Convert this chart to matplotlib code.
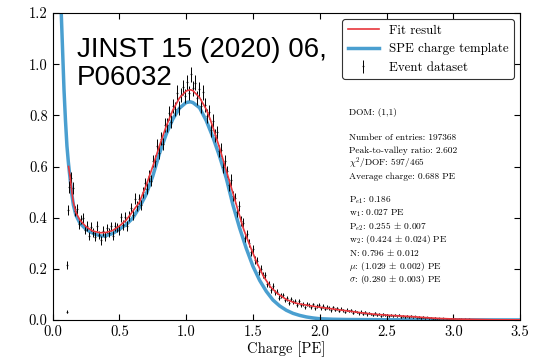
import numpy as np
import matplotlib
matplotlib.use("Agg")
import matplotlib.pyplot as plt

plt.rcParams["font.family"] = "serif"
plt.rcParams["font.serif"] = ["cmr10"]
plt.rcParams["mathtext.fontset"] = "cm"
plt.rcParams["axes.unicode_minus"] = False
plt.rcParams["axes.formatter.use_mathtext"] = True

# SPE charge template (blue)
tmpl_x = [0.064, 0.075, 0.086, 0.097, 0.108, 0.118, 0.131, 0.145, 0.156, 0.175,
          0.206, 0.25, 0.281, 0.32, 0.368, 0.40, 0.45, 0.50, 0.528, 0.55,
          0.60, 0.65, 0.70, 0.75, 0.80, 0.85, 0.90, 0.95, 1.00, 1.03,
          1.05, 1.10, 1.15, 1.20, 1.25, 1.30, 1.35, 1.40, 1.45, 1.50,
          1.55, 1.60, 1.65, 1.70, 1.75, 1.80, 1.85, 1.90, 1.95, 2.00,
          2.10, 2.20, 2.50, 3.00, 3.50]
tmpl_y = [1.22, 1.06, 0.90, 0.78, 0.68, 0.62, 0.555, 0.49, 0.45, 0.41,
          0.378, 0.355, 0.345, 0.335, 0.328, 0.330, 0.338, 0.355, 0.365, 0.372,
          0.398, 0.44, 0.49, 0.562, 0.650, 0.725, 0.785, 0.828, 0.850, 0.853,
          0.850, 0.830, 0.780, 0.715, 0.640, 0.555, 0.450, 0.360, 0.280, 0.210,
          0.155, 0.112, 0.078, 0.055, 0.038, 0.026, 0.018, 0.012, 0.008, 0.005,
          0.003, 0.002, 0.001, 0.0005, 0.0003]

# Fit result (red)
fit_x = [0.12, 0.13, 0.145, 0.156, 0.175, 0.206, 0.25, 0.30, 0.356, 0.40,
         0.45, 0.50, 0.55, 0.58, 0.60, 0.65, 0.70, 0.754, 0.80, 0.85,
         0.90, 0.95, 1.00, 1.03, 1.05, 1.10, 1.15, 1.18, 1.20, 1.25,
         1.28, 1.33, 1.38, 1.43, 1.48, 1.53, 1.58, 1.63, 1.68, 1.75,
         1.82, 1.90, 2.00, 2.10, 2.20, 2.30, 2.40, 2.50, 2.60, 2.70,
         2.80, 2.90, 3.00, 3.10, 3.20, 3.30, 3.50]
fit_y = [0.60, 0.565, 0.50, 0.46, 0.42, 0.39, 0.365, 0.348, 0.341, 0.342,
         0.350, 0.367, 0.39, 0.41, 0.425, 0.46, 0.525, 0.606, 0.68, 0.756,
         0.82, 0.868, 0.895, 0.900, 0.897, 0.870, 0.824, 0.785, 0.754, 0.673,
         0.620, 0.532, 0.443, 0.355, 0.287, 0.223, 0.170, 0.130, 0.105, 0.080,
         0.066, 0.058, 0.050, 0.043, 0.036, 0.029, 0.023, 0.019, 0.016, 0.013,
         0.009, 0.006, 0.004, 0.003, 0.002, 0.001, 0.0005]

# Event dataset: first few bins, then bins of 0.015 PE from 0.135
lead_x = [0.106, 0.112, 0.118, 0.124, 0.129]
lead_y = [0.033, 0.215, 0.43, 0.52, 0.55]
data_y = [
    0.557, 0.516, 0.427, 0.434, 0.374, 0.393, 0.400, 0.353, 0.367, 0.328,
    0.365, 0.342, 0.326, 0.367, 0.332, 0.311, 0.348, 0.325, 0.358, 0.341,
    0.366, 0.329, 0.366, 0.362, 0.352, 0.401, 0.371, 0.404, 0.367, 0.407,
    0.438, 0.412, 0.474, 0.446, 0.473, 0.450, 0.500, 0.535, 0.514, 0.562,
    0.544, 0.622, 0.620, 0.682, 0.654, 0.708, 0.688, 0.762, 0.762, 0.810,
    0.775, 0.837, 0.825, 0.889, 0.827, 0.879, 0.909, 0.875, 0.929, 0.887,
    0.960, 0.906, 0.928, 0.868, 0.902, 0.836, 0.890, 0.839, 0.798, 0.814,
    0.742, 0.779, 0.722, 0.733, 0.661, 0.666, 0.597, 0.620, 0.581, 0.528,
    0.547, 0.485, 0.477, 0.422, 0.446, 0.388, 0.379, 0.322, 0.336, 0.300,
    0.264, 0.277, 0.234, 0.231, 0.187, 0.201, 0.175, 0.175, 0.142, 0.142,
    0.117, 0.132, 0.108, 0.110, 0.087, 0.095, 0.098, 0.077, 0.085, 0.066,
    0.082, 0.070, 0.074, 0.060, 0.074, 0.059, 0.062, 0.050, 0.064, 0.058,
    0.050, 0.061, 0.046, 0.055, 0.059, 0.046, 0.054, 0.044, 0.051, 0.047,
    0.038, 0.049, 0.041, 0.045, 0.036, 0.044, 0.039, 0.031, 0.040, 0.035,
    0.038, 0.029, 0.035, 0.031, 0.026, 0.033, 0.025, 0.030, 0.022, 0.027,
    0.024, 0.019, 0.026, 0.020, 0.023, 0.017, 0.022, 0.018, 0.021, 0.016,
    0.020, 0.015, 0.019, 0.014, 0.021, 0.013, 0.017, 0.012, 0.016, 0.011,
    0.015, 0.010, 0.014, 0.009, 0.013, 0.008, 0.011, 0.007, 0.010, 0.006,
    0.009, 0.005, 0.008, 0.005, 0.007, 0.004, 0.006, 0.004, 0.005, 0.003,
    0.005, 0.003, 0.004, 0.002, 0.004, 0.003, 0.002, 0.003, 0.002, 0.003,
    0.001, 0.002, 0.001, 0.002, 0.001, 0.002, 0.001, 0.001, 0.0005, 0.001,
    0.0005, 0.001, 0.0005, 0.0005, 0.001, 0.0003, 0.0005, 0.0003, 0.0005, 0.0003,
    0.0003, 0.0005, 0.0002, 0.0003, 0.0002]

info_top = ["Number of entries: 197368",
            "Peak-to-valley ratio: 2.602",
            r"$\chi^2$/DOF: 597/465",
            "Average charge: 0.688 PE"]
info_fit = [r"P$_{e1}$: 0.186",
            r"w$_1$: 0.027 PE",
            r"P$_{e2}$: 0.255 $\pm$ 0.007",
            r"w$_2$: (0.424 $\pm$ 0.024) PE",
            r"N: 0.796 $\pm$ 0.012",
            r"$\mu$: (1.029 $\pm$ 0.002) PE",
            r"$\sigma$: (0.280 $\pm$ 0.003) PE"]

C_RED, C_BLUE = "#e8363c", "#4a9fd0"

x_all = np.concatenate([lead_x, 0.135 + 0.015 * np.arange(len(data_y))])
y_all = np.concatenate([lead_y, data_y])
yerr = 0.03 * np.sqrt(y_all)

fig = plt.figure(figsize=(5.47, 3.59), dpi=100)
ax = fig.add_axes([0.096, 0.1086, 0.855, 0.8552])

l_tmpl, = ax.plot(tmpl_x, tmpl_y, color=C_BLUE, lw=2.5, zorder=1,
                  label="SPE charge template")
eb = ax.errorbar(x_all, y_all, yerr=yerr, fmt=".", color="black", ms=0.6,
                 elinewidth=0.7, zorder=2, label="Event dataset")
l_fit, = ax.plot(fit_x, fit_y, color=C_RED, lw=1.2, zorder=3, label="Fit result")

ax.set_xlim(0, 3.5)
ax.set_ylim(0, 1.2)
ax.set_xticks(np.arange(0, 3.51, 0.5))
ax.set_yticks(np.arange(0, 1.21, 0.2))
ax.xaxis.set_major_formatter(matplotlib.ticker.FormatStrFormatter("%.1f"))
ax.yaxis.set_major_formatter(matplotlib.ticker.FormatStrFormatter("%.1f"))
ax.tick_params(direction="in", top=True, right=True, length=4, labelsize=10.5)
ax.set_xlabel("Charge [PE]", fontsize=10.5, labelpad=2)

leg = ax.legend(handles=[l_fit, l_tmpl, eb], loc="upper right", fontsize=9.3,
                handlelength=2.4, framealpha=1, edgecolor="0.2", fancybox=True)
leg.get_frame().set_linewidth(0.8)

# info block, positioned in pixel rows of the reference
def ypix(p):
    return (320 - p) / 307.0

xt = (348.5 - 52.5) / 467.5
ax.text(xt, ypix(112), "DOM: (1,1)", transform=ax.transAxes, fontsize=6.8, va="center")
for k, s in enumerate(info_top):
    ax.text(xt, ypix(137.3 + 13.1 * k), s, transform=ax.transAxes, fontsize=6.8, va="center")
for k, s in enumerate(info_fit):
    ax.text(xt, ypix(200 + 13.2 * k), s, transform=ax.transAxes, fontsize=6.8, va="center")

# overlaid reference
fig.text(77 / 547, 1 - 57 / 359, "JINST 15 (2020) 06,", fontsize=20,
         family="Liberation Sans", va="baseline")
fig.text(77 / 547, 1 - 85 / 359, "P06032", fontsize=20,
         family="Liberation Sans", va="baseline")

fig.savefig("out.png", dpi=100)
